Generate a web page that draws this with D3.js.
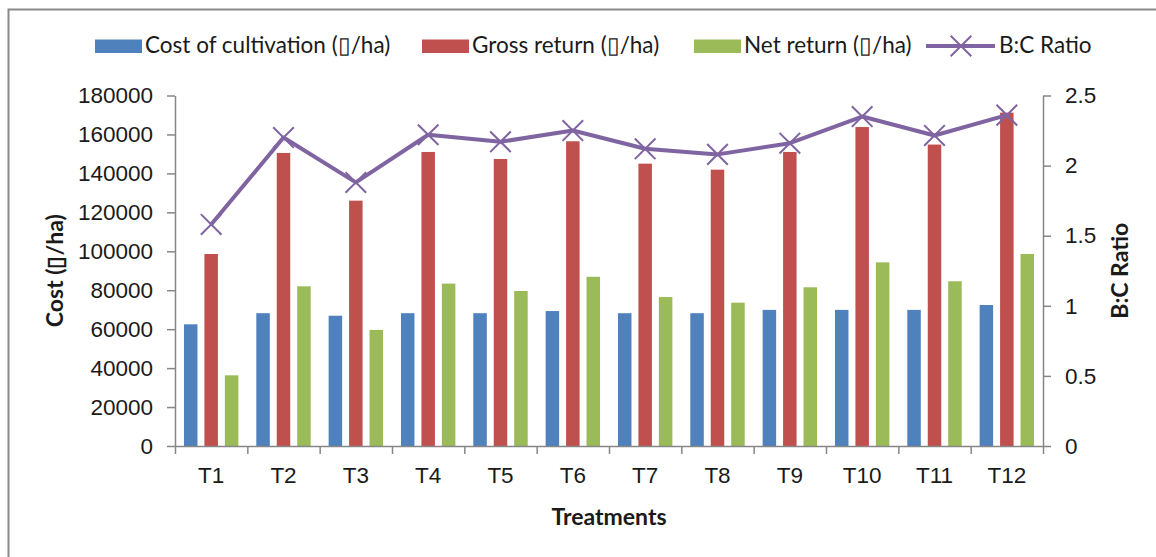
<!DOCTYPE html>
<html>
<head>
<meta charset="utf-8">
<script src="https://cdn.jsdelivr.net/npm/d3@7"></script>
<style>
  html, body { margin: 0; padding: 0; background: #fff; }
  svg { display: block; font-family: Lato, "Open Sans", sans-serif; }
</style>
</head>
<body>
<svg id="chart" width="1156" height="557"></svg>
<script>
// Treatments and economics per hectare
const treatments = ["T1","T2","T3","T4","T5","T6","T7","T8","T9","T10","T11","T12"];
const costOfCultivation = [62500, 68200, 66900, 68200, 68200, 69300, 68200, 68200, 69900, 69900, 69900, 72400];
const grossReturn = [98600, 150500, 126000, 151000, 147400, 156500, 145000, 141900, 151000, 163800, 154800, 171200];
const netReturn = [36300, 82000, 59600, 83400, 79600, 86900, 76500, 73600, 81500, 94300, 84600, 98600];
const bcRatio = [1.58, 2.20, 1.88, 2.22, 2.17, 2.25, 2.12, 2.08, 2.16, 2.35, 2.215, 2.36];

const leftTicks = [0, 20000, 40000, 60000, 80000, 100000, 120000, 140000, 160000, 180000];
const rightTicks = [0, 0.5, 1, 1.5, 2, 2.5];

const seriesNames = ["Cost of cultivation (\u25AF/ha)", "Gross return (\u25AF/ha)", "Net return (\u25AF/ha)", "B:C Ratio"];
const barSeries = [
  { name: seriesNames[0], values: costOfCultivation, color: "#4F81BD" },
  { name: seriesNames[1], values: grossReturn, color: "#C0504D" },
  { name: seriesNames[2], values: netReturn, color: "#9BBB59" }
];
const lineColor = "#8064A2";

const svg = d3.select("#chart");
const plot = { left: 175, right: 1043, top: 95.5, bottom: 446 };
const fontSize = 22.5;
const titleSize = 23;
const textColor = "#1a1a1a";
const axisColor = "#868686";

// outer frame
svg.append("rect")
  .attr("x", 8.5).attr("y", 9.5)
  .attr("width", 1200).attr("height", 600)
  .attr("fill", "none").attr("stroke", "#8a8a8a").attr("stroke-width", 2);

// scales
const x0 = d3.scaleBand().domain(treatments).range([plot.left, plot.right])
  .paddingInner(0.248).paddingOuter(0.124);
const x1 = d3.scaleBand().domain(barSeries.map(s => s.name)).range([0, x0.bandwidth()])
  .paddingInner(0.34);
const yLeft = d3.scaleLinear().domain([0, 180000]).range([plot.bottom, plot.top]);
const yRight = d3.scaleLinear().domain([0, 2.5]).range([plot.bottom, plot.top]);
const xEdge = d3.scaleLinear().domain([0, treatments.length]).range([plot.left, plot.right]);

// bars
barSeries.forEach(s => {
  svg.append("g").selectAll("rect")
    .data(treatments.map((t, i) => ({ t, v: s.values[i] })))
    .join("rect")
    .attr("x", d => x0(d.t) + x1(s.name))
    .attr("y", d => yLeft(d.v))
    .attr("width", x1.bandwidth())
    .attr("height", d => yLeft(0) - yLeft(d.v))
    .attr("fill", s.color);
});

// axes
function styleAxis(g) {
  g.selectAll(".domain").attr("stroke", axisColor).attr("stroke-width", 1.5);
  g.selectAll(".tick line").attr("stroke", axisColor).attr("stroke-width", 1.5);
  g.selectAll(".tick text").attr("fill", textColor).attr("font-size", fontSize);
}

const gLeft = svg.append("g").attr("transform", `translate(${plot.left},0)`)
  .call(d3.axisLeft(yLeft).tickValues(leftTicks).tickFormat(d3.format("d"))
    .tickSizeInner(8).tickSizeOuter(0).tickPadding(14));
styleAxis(gLeft);

const gRight = svg.append("g").attr("transform", `translate(${plot.right},0)`)
  .call(d3.axisRight(yRight).tickValues(rightTicks).tickFormat(d => String(d))
    .tickSizeInner(8).tickSizeOuter(0).tickPadding(14));
styleAxis(gRight);

// category boundary ticks
const gBottomTicks = svg.append("g").attr("transform", `translate(0,${plot.bottom})`)
  .call(d3.axisBottom(xEdge).tickValues(d3.range(0, treatments.length + 1))
    .tickFormat("").tickSizeInner(8).tickSizeOuter(0));
styleAxis(gBottomTicks);

// category labels
const gBottom = svg.append("g").attr("transform", `translate(0,${plot.bottom})`)
  .call(d3.axisBottom(x0).tickSize(0).tickPadding(21));
gBottom.select(".domain").remove();
styleAxis(gBottom);

// B:C ratio line with cross markers
const cx = t => x0(t) + x0.bandwidth() / 2;
const lineData = treatments.map((t, i) => ({ t, v: bcRatio[i] }));
svg.append("path")
  .datum(lineData)
  .attr("fill", "none")
  .attr("stroke", lineColor)
  .attr("stroke-width", 4)
  .attr("stroke-linejoin", "round")
  .attr("d", d3.line().x(d => cx(d.t)).y(d => yRight(d.v)));

const cross = d3.symbol().type(d3.symbolX).size(280);
svg.append("g").selectAll("path")
  .data(lineData)
  .join("path")
  .attr("transform", d => `translate(${cx(d.t)},${yRight(d.v)})`)
  .attr("d", cross)
  .attr("fill", "none")
  .attr("stroke", lineColor)
  .attr("stroke-width", 2);

// axis titles
svg.append("text")
  .attr("transform", `translate(63,${(plot.top + plot.bottom) / 2}) rotate(-90)`)
  .attr("text-anchor", "middle")
  .attr("font-weight", "bold").attr("font-size", titleSize).attr("fill", textColor)
  .text("Cost (\u25AF/ha)");

svg.append("text")
  .attr("transform", `translate(1128,${(plot.top + plot.bottom) / 2}) rotate(-90)`)
  .attr("text-anchor", "middle")
  .attr("font-weight", "bold").attr("font-size", titleSize).attr("fill", textColor)
  .text("B:C Ratio");

svg.append("text")
  .attr("x", (plot.left + plot.right) / 2).attr("y", 525)
  .attr("text-anchor", "middle")
  .attr("font-weight", "bold").attr("font-size", titleSize).attr("fill", textColor)
  .text("Treatments");

// legend
const legendItems = [
  { name: seriesNames[0], color: barSeries[0].color, x: 95, type: "bar" },
  { name: seriesNames[1], color: barSeries[1].color, x: 422, type: "bar" },
  { name: seriesNames[2], color: barSeries[2].color, x: 694, type: "bar" },
  { name: seriesNames[3], color: lineColor, x: 926, type: "line" }
];
const legend = svg.append("g");
legendItems.forEach(item => {
  const g = legend.append("g").attr("transform", `translate(${item.x},0)`);
  if (item.type === "bar") {
    g.append("rect").attr("x", 0).attr("y", 39.5).attr("width", 47).attr("height", 13.5)
      .attr("fill", item.color);
    g.append("text").attr("x", 50).attr("y", 52.5).attr("font-size", fontSize)
      .attr("fill", textColor).text(item.name);
  } else {
    g.append("line").attr("x1", 0).attr("x2", 69).attr("y1", 46).attr("y2", 46)
      .attr("stroke", item.color).attr("stroke-width", 4);
    g.append("path").attr("transform", "translate(35,46)").attr("d", cross)
      .attr("fill", "none").attr("stroke", item.color).attr("stroke-width", 2);
    g.append("text").attr("x", 73).attr("y", 52.5).attr("font-size", fontSize)
      .attr("fill", textColor).text(item.name);
  }
});
</script>
</body>
</html>
